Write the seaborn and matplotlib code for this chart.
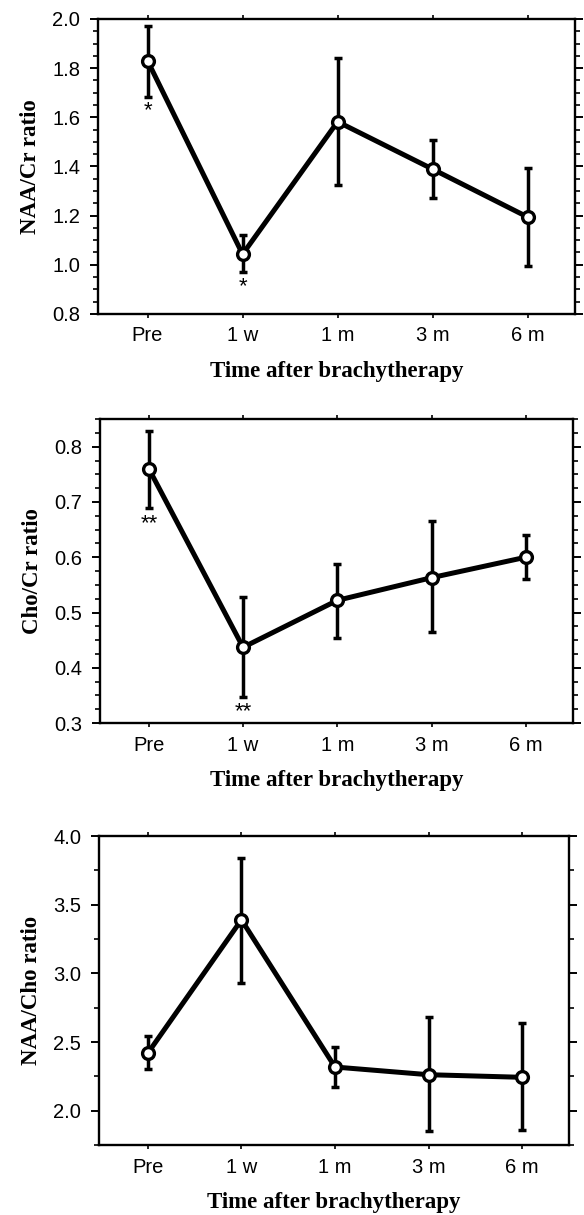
import matplotlib
matplotlib.use("Agg")
import matplotlib.pyplot as plt
import seaborn as sns
import pandas as pd
from matplotlib.ticker import MultipleLocator

# Datos
tiempos = ["Pre", "1 w", "1 m", "3 m", "6 m"]

naa_cr = [1.83, 1.043, 1.582, 1.389, 1.194]
naa_cr_sup = [1.973, 1.121, 1.841, 1.507, 1.393]
naa_cr_inf = [1.683, 0.971, 1.326, 1.270, 0.995]

cho_cr = [0.760, 0.437, 0.522, 0.563, 0.600]
cho_cr_sup = [0.829, 0.528, 0.588, 0.665, 0.640]
cho_cr_inf = [0.689, 0.347, 0.454, 0.465, 0.560]

naa_cho = [2.42, 3.39, 2.318, 2.262, 2.243]
naa_cho_sup = [2.547, 3.837, 2.467, 2.680, 2.637]
naa_cho_inf = [2.306, 2.930, 2.173, 1.850, 1.861]

# asteriscos de significancia (posicion, texto, valor y)
sig_naa_cr = [("Pre", "*", 1.625), ("1 w", "*", 0.91)]
sig_cho_cr = [("Pre", "**", 0.66), ("1 w", "**", 0.32)]

sns.set_style("ticks")
plt.rcParams['font.family'] = ['Liberation Sans', 'DejaVu Sans']
plt.rcParams.update({
    "axes.edgecolor": "black", "xtick.color": "black", "ytick.color": "black",
    "text.color": "black", "axes.labelcolor": "black",
})

fig = plt.figure(figsize=(5.84, 12.15), dpi=100)

paneles = [
    # (pos, y, sup, inf, ylabel, ylim, mayor, menor, sig)
    ([0.168, 0.7416, 0.817, 0.2428], naa_cr, naa_cr_sup, naa_cr_inf,
     "NAA/Cr ratio", (0.8, 2.0), 0.2, 0.05, sig_naa_cr),
    ([0.171, 0.4049, 0.810, 0.2502], cho_cr, cho_cr_sup, cho_cr_inf,
     "Cho/Cr ratio", (0.3, 0.85), 0.1, 0.025, sig_cho_cr),
    ([0.170, 0.0576, 0.804, 0.2543], naa_cho, naa_cho_sup, naa_cho_inf,
     "NAA/Cho ratio", (1.75, 4.0), 0.5, 0.25, []),
]

for pos, y, sup, inf, ylab, ylim, mayor, menor, sig in paneles:
    ax = fig.add_axes(pos)
    df = pd.DataFrame({"tiempo": tiempos, "valor": y})
    err = [[v - l for v, l in zip(y, inf)], [s - v for v, s in zip(y, sup)]]
    ax.errorbar(df["tiempo"], df["valor"], yerr=err, fmt="none",
                ecolor="black", elinewidth=2.5, capsize=3.2, capthick=2.5, zorder=2)
    sns.lineplot(data=df, x="tiempo", y="valor", ax=ax, color="black",
                 linewidth=3.6, marker="o", markersize=8.5, markerfacecolor="white",
                 markeredgecolor="black", markeredgewidth=2.4, zorder=3, sort=False)
    for t, s, yy in sig:
        ax.text(tiempos.index(t), yy, s, ha="center", va="center", fontsize=16)

    ax.set_xlim(-0.52, 4.5)
    ax.set_ylim(*ylim)
    ax.yaxis.set_major_locator(MultipleLocator(mayor))
    ax.yaxis.set_minor_locator(MultipleLocator(menor))
    ticks = [t for t in ax.get_yticks() if ylim[0] - 1e-9 <= t <= ylim[1] + 1e-9]
    ax.set_yticks(ticks)
    ax.set_yticklabels([f"{t:.1f}" for t in ticks])

    for lado in ["top", "right", "bottom", "left"]:
        ax.spines[lado].set_visible(True)
        ax.spines[lado].set_linewidth(1.7)
    ax.tick_params(axis="y", which="major", direction="out", length=6, width=1.4,
                   labelsize=14.5, right=True, pad=7)
    ax.tick_params(axis="y", which="minor", direction="out", length=3.5, width=1.2,
                   right=True)
    ax.tick_params(axis="x", which="major", direction="out", length=3, width=1.2,
                   labelsize=14.5, top=True, pad=6)

    ax.set_xlabel("Time after brachytherapy", family="Liberation Serif",
                  fontweight="bold", fontsize=16.5, labelpad=11)
    ax.set_ylabel(ylab, family="Liberation Serif", fontweight="bold",
                  fontsize=16.5, labelpad=8)

fig.savefig("out.png", dpi=100)
